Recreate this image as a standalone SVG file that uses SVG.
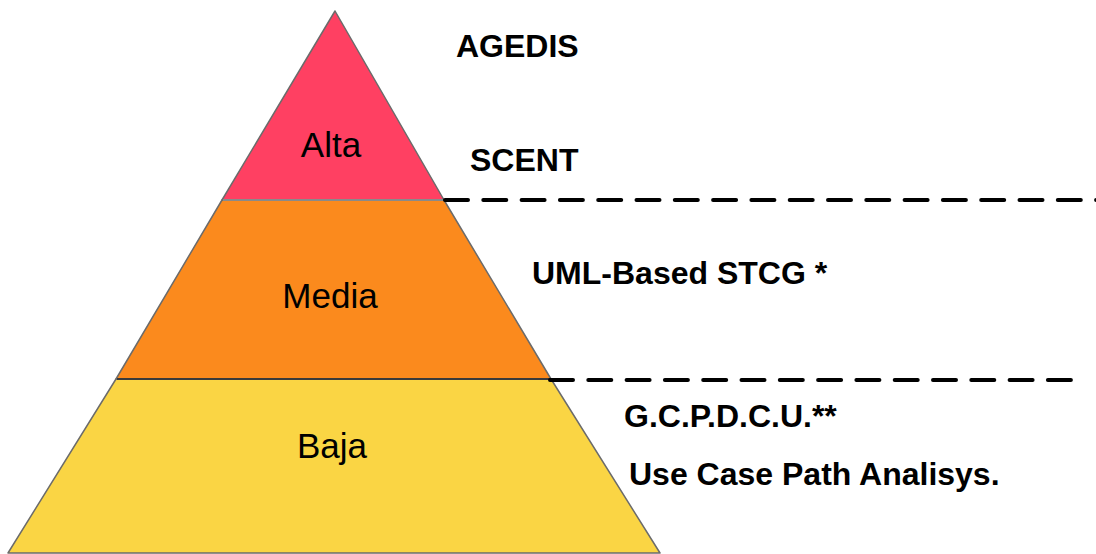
<svg xmlns="http://www.w3.org/2000/svg" width="1096" height="554" viewBox="0 0 1096 554">
<style>
.tier{stroke:#6b6b6b;stroke-width:1.5;stroke-linejoin:round}
.lvl{font-family:"Liberation Sans",Arial,sans-serif;font-size:35px;fill:#000;text-anchor:middle}
.lbl{font-family:"Liberation Sans",Arial,sans-serif;font-size:32px;font-weight:bold;fill:#000}
.dash{stroke:#000;stroke-width:4;stroke-linecap:round;stroke-dasharray:23 15.3;fill:none}
.sep{stroke:#3a3a3a;stroke-width:2}
</style>
<rect width="1096" height="554" fill="#fff"/>
<g id="baja">
<polygon class="tier" points="116,379 551,379 660,553 8,553" fill="#FAD544"/>
<text class="lvl" x="332" y="458">Baja</text>
</g>
<g id="media">
<polygon class="tier" points="222,200 444,200 551,379 116,379" fill="#FB8A1D"/>
<text class="lvl" x="330" y="308">Media</text>
</g>
<g id="alta">
<polygon class="tier" points="335,11 444,200 222,200" fill="#FF4062"/>
<text class="lvl" x="331" y="157">Alta</text>
</g>
<g id="separators">
<line class="sep" x1="117" y1="379" x2="550" y2="379"/>
<line x1="223" y1="200" x2="443" y2="200" stroke="#8a8a8a" stroke-width="2"/>
</g>
<g id="connectors">
<line class="dash" x1="445" y1="200" x2="1100" y2="200"/>
<line class="dash" x1="550" y1="380" x2="1073" y2="380"/>
</g>
<g id="labels">
<text class="lbl" x="456" y="57">AGEDIS</text>
<text class="lbl" x="470" y="171">SCENT</text>
<text class="lbl" x="532" y="284">UML-Based STCG *</text>
<text class="lbl" x="624" y="427">G.C.P.D.C.U.**</text>
<text class="lbl" x="629" y="485">Use Case Path Analisys.</text>
</g>
</svg>
